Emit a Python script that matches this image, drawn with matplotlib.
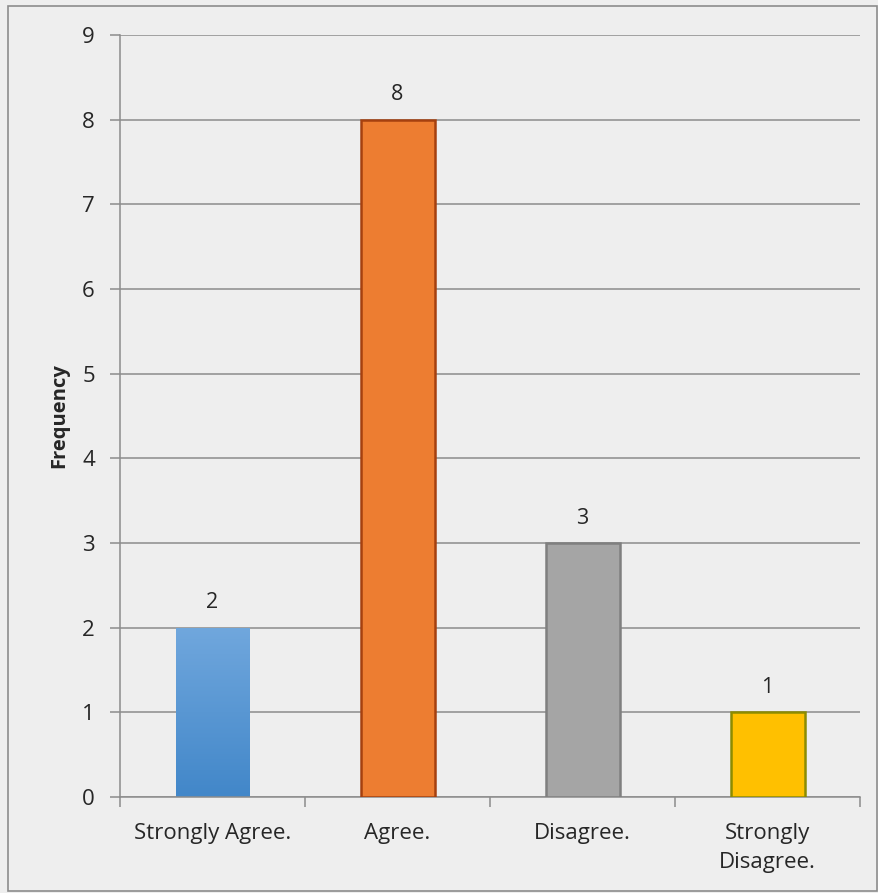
import matplotlib
matplotlib.use("Agg")
import matplotlib.pyplot as plt
import numpy as np
from matplotlib.patches import Rectangle

# survey answers
categories = ["Strongly Agree.", "Agree.", "Disagree.", "Strongly\nDisagree."]
counts = [2, 8, 3, 1]
fills = ["#5B9BD5", "#ED7D31", "#A5A5A5", "#FFC000"]
edges = ["none", "#A5400F", "#7F7F7F", "#8C8C00"]

plt.rcParams['font.family'] = ['Open Sans', 'DejaVu Sans']

bg = "#EEEEEE"
fig = plt.figure(figsize=(8.79, 8.93), dpi=100, facecolor=bg)
ax = fig.add_axes([120 / 879, 1 - 797 / 893, 740 / 879, 762 / 893])
ax.set_facecolor(bg)

# outer frame of the chart
fig.patches.append(Rectangle((8 / 879, 2 / 893), 869 / 879, 885 / 893,
                             transform=fig.transFigure, fill=False,
                             edgecolor="#8C8C8C", linewidth=1.2))

x = np.arange(len(categories))
bars = ax.bar(x, counts, width=0.4, color=fills, edgecolor=edges,
              linewidth=1.8, zorder=3)

# blue bar has a soft vertical gradient
b0 = bars[0]
b0.set_facecolor("none")
grad = np.linspace(0, 1, 100).reshape(-1, 1)
cmap = matplotlib.colors.LinearSegmentedColormap.from_list("g", ["#4287C9", "#70A7DD"])
im = ax.imshow(grad, cmap=cmap, origin="lower", aspect="auto", zorder=2.5,
               extent=[b0.get_x(), b0.get_x() + b0.get_width(), 0, counts[0]])
im.set_clip_path(b0)

for xi, v in zip(x, counts):
    ax.text(xi, v + 0.17, str(v), ha="center", va="bottom", fontsize=15.5, color="#262626")

ax.set_xlim(-0.5, len(categories) - 0.5)
ax.set_ylim(0, 9)
ax.set_yticks(range(10))
ax.yaxis.grid(True, color="#8C8C8C", linewidth=1.1, zorder=0)
ax.set_axisbelow(True)

ax.set_xticks(x)
ax.set_xticklabels(categories, fontsize=16, color="#262626", linespacing=1.45)
ax.set_xticks(np.arange(-0.5, len(categories)), minor=True)
ax.tick_params(axis="x", which="major", length=0, pad=19)
ax.tick_params(axis="x", which="minor", length=7, color="#8C8C8C", width=1.1)
ax.tick_params(axis="y", length=7, color="#8C8C8C", width=1.1, labelsize=16,
               labelcolor="#262626", pad=11)

for s in ["top", "right"]:
    ax.spines[s].set_visible(False)
for s in ["left", "bottom"]:
    ax.spines[s].set_color("#8C8C8C")
    ax.spines[s].set_linewidth(1.1)

ax.set_ylabel("Frequency", fontsize=14.5, fontweight="bold", color="#262626")
ax.yaxis.set_label_coords(-0.068, 0.5)

fig.savefig("out.png", dpi=100, facecolor=bg)
